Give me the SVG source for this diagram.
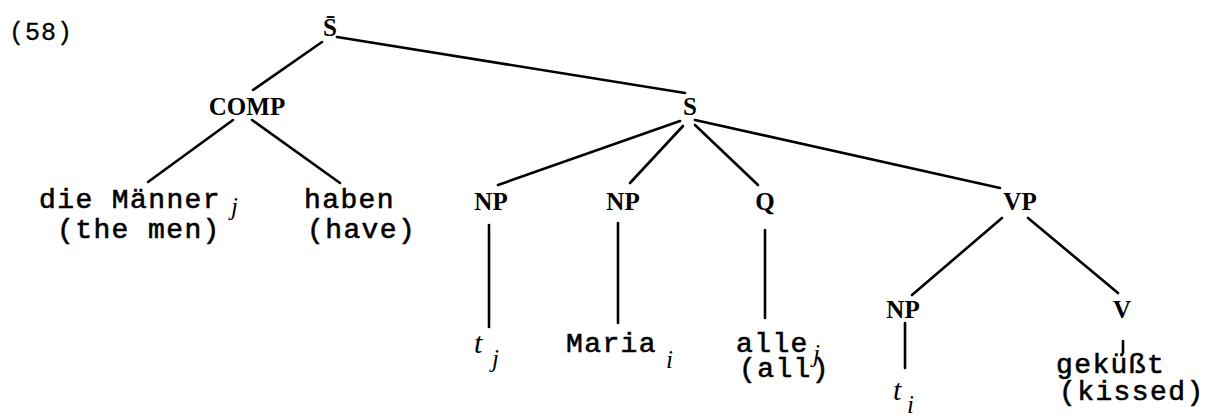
<svg xmlns="http://www.w3.org/2000/svg" width="1210" height="418" viewBox="0 0 1210 418">
<style>
.bg{fill:#fff}
.cat{font-family:"Liberation Serif","Times New Roman",serif;font-size:25px;font-weight:bold;fill:#000;text-anchor:middle}
.w{font-family:"Liberation Mono","Courier New",monospace;font-size:28px;letter-spacing:1.4px;fill:#000;stroke:#000;stroke-width:0.6}
.it{font-family:"Liberation Serif","Times New Roman",serif;font-style:italic;fill:#000}
.t{font-size:30px}
.sub{font-size:25px}
#connectors line{stroke:#000;stroke-width:2.6;stroke-linecap:round}
</style>
<rect class="bg" x="0" y="0" width="1210" height="418"/>
<g id="connectors">
<line x1="322" y1="42" x2="253" y2="90"/>
<line x1="337" y1="37" x2="685" y2="93"/>
<line x1="233" y1="120" x2="148" y2="182"/>
<line x1="252" y1="120" x2="340" y2="183"/>
<line x1="680" y1="121" x2="498" y2="185"/>
<line x1="683" y1="126" x2="630" y2="183"/>
<line x1="695" y1="125" x2="758" y2="185"/>
<line x1="695" y1="120" x2="1000" y2="188"/>
<line x1="489" y1="225" x2="489" y2="327"/>
<line x1="618" y1="223" x2="618" y2="323"/>
<line x1="765" y1="230" x2="765" y2="318"/>
<line x1="1002" y1="218" x2="912" y2="295"/>
<line x1="1028" y1="218" x2="1118" y2="293"/>
<line x1="905" y1="323" x2="905" y2="368"/>
<line x1="1123" y1="341" x2="1123" y2="353"/>
</g>
<g id="label58"><text class="w" x="9" y="40" style="font-size:25px;letter-spacing:1px;stroke-width:0.3">(58)</text></g>
<g id="Sbar"><text class="cat" x="330" y="36">S̄</text></g>
<g id="COMP"><text class="cat" x="247" y="115">COMP</text></g>
<g id="S"><text class="cat" x="690" y="115">S</text></g>
<g id="dieMaenner">
<text class="w" x="39" y="208">die Männer</text>
<text class="w" x="57" y="238">(the men)</text>
<text class="it sub" x="231" y="215">j</text>
</g>
<g id="haben">
<text class="w" x="304" y="208">haben</text>
<text class="w" x="307" y="238">(have)</text>
</g>
<g id="NP1"><text class="cat" x="491" y="210">NP</text></g>
<g id="NP2"><text class="cat" x="623" y="210">NP</text></g>
<g id="Q"><text class="cat" x="765" y="210">Q</text></g>
<g id="VP"><text class="cat" x="1020" y="210">VP</text></g>
<g id="tj">
<text class="it t" x="474" y="353">t</text>
<text class="it sub" x="492" y="367">j</text>
</g>
<g id="Maria">
<text class="w" x="566" y="352">Maria</text>
<text class="it sub" x="666" y="368">i</text>
</g>
<g id="alle">
<text class="w" x="736" y="352">alle</text>
<text class="w" x="739" y="377">(all)</text>
<text class="it sub" x="813" y="362">j</text>
</g>
<g id="NP3"><text class="cat" x="903" y="318">NP</text></g>
<g id="V"><text class="cat" x="1122" y="318">V</text></g>
<g id="ti">
<text class="it t" x="893" y="400">t</text>
<text class="it sub" x="907" y="413">i</text>
</g>
<g id="gekuesst">
<text class="w" x="1056" y="373">geküßt</text>
<text class="w" x="1059" y="400">(kissed)</text>
</g>
</svg>
